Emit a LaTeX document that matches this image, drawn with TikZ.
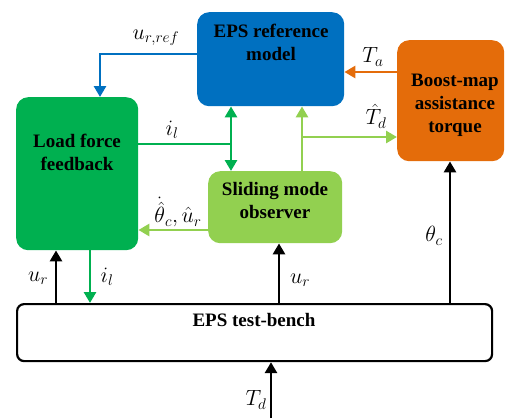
\RequirePackage{fix-cm}
\documentclass[tikz,border=0pt]{standalone}
\usepackage{fontspec}
\setmainfont{Liberation Serif}
\usetikzlibrary{arrows.meta}
\definecolor{cblue}{HTML}{0070C0}
\definecolor{cgreen}{HTML}{00B050}
\definecolor{clight}{HTML}{92D050}
\definecolor{corange}{HTML}{E46C0A}
\begin{document}
\begin{tikzpicture}[x=1pt,y=-1pt,
 box/.style={rounded corners=12pt, inner sep=0pt, anchor=north west},
 lbl/.style={font=\fontsize{19}{23}\selectfont\bfseries, align=center, inner sep=0pt},
 ml/.style={font=\fontsize{22}{26}\selectfont, inner sep=0pt},
 arr/.style={line width=2.8pt, -{Triangle[length=11pt,width=12pt]}},
 darr/.style={line width=2.8pt, {Triangle[length=11pt,width=12pt]}-{Triangle[length=11pt,width=12pt]}},
 plain/.style={line width=2.8pt},
]
\useasboundingbox (0,0) rectangle (506,418);
\node[box, fill=cblue, minimum width=147pt, minimum height=94pt] (ref) at (197,12) {};
\node[box, fill=cgreen, minimum width=122pt, minimum height=153pt] (lff) at (16,97) {};
\node[box, fill=clight, minimum width=134pt, minimum height=72pt] (smo) at (208,171) {};
\node[box, fill=corange, minimum width=107pt, minimum height=121pt] (bm) at (397,40) {};
\node[box, draw, line width=2.2pt, rounded corners=7pt, fill=white, minimum width=475pt, minimum height=57pt] (tb) at (16,303) {};

\node[lbl] (reft) at (271,42) {EPS reference\\model};
\node[lbl] (lfft) at (77,152) {Load force\\feedback};
\node[lbl] (smot) at (275,200) {Sliding mode\\observer};
\node[lbl] (bmt) at (455,105) {Boost-map\\assistance\\torque};
\node[lbl] (tbt) at (254,320) {EPS test-bench};

\coordinate (j1) at (231,144);
\coordinate (j2) at (302,137);
\coordinate (tin) at (271,418);

\draw[arr,cblue] (ref.west |- 0,54) -| (lff.north -| 100,0);
\draw[plain,cgreen] (lff.east |- j1) -- (j1);
\draw[darr,cgreen] (ref.south -| j1) -- (smo.north -| j1);
\draw[arr,corange] (bm.west |- 0,72) -- (ref.east |- 0,72);
\draw[arr,clight] (smo.north -| j2) -- (ref.south -| j2);
\draw[arr,clight] (j2) -- (bm.west |- j2);
\draw[arr,clight] (smo.west |- 0,230) -- (lff.east |- 0,230);
\draw[arr] (tb.north -| 56,0) -- (lff.south -| 56,0);
\draw[arr,cgreen] (lff.south -| 90,0) -- (tb.north -| 90,0);
\draw[arr] (tb.north -| 279,0) -- (smo.south -| 279,0);
\draw[arr] (tb.north -| 450,0) -- (bm.south -| 450,0);
\draw[arr] (tin) -- (tb.south -| tin);

\node[ml] (l1) at (156,38) {$u_{r,ref}$};
\node[ml] (l2) at (172,130) {$i_l$};
\node[ml] (l3) at (373,57) {$T_a$};
\node[ml] (l4) at (376,116) {$\hat{T}_d$};
\node[ml] (l5) at (178,212) {$\dot{\hat{\theta}}_c,\hat{u}_r$};
\node[ml] (l6) at (38,278) {$u_r$};
\node[ml] (l7) at (107,277) {$i_l$};
\node[ml] (l8) at (300,280) {$u_r$};
\node[ml] (l9) at (434,236) {$\theta_c$};
\node[ml] (l10) at (256,400) {$T_d$};
\end{tikzpicture}
\end{document}
